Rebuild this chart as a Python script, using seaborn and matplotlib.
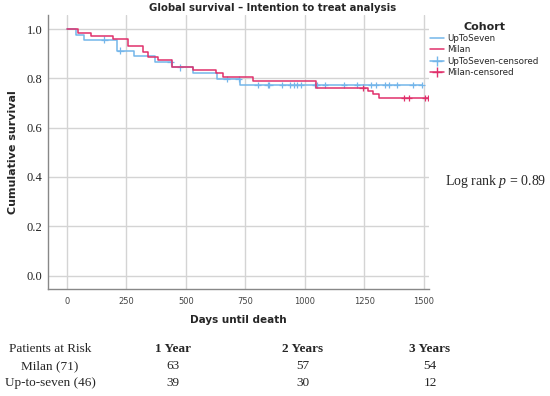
import numpy as np
import pandas as pd
import matplotlib
matplotlib.use("Agg")
import matplotlib.pyplot as plt
from matplotlib.lines import Line2D
import seaborn as sns

# Kaplan-Meier steps
milan_t = [0, 45, 100, 195, 255, 318, 340, 382, 441, 529, 626, 655, 781, 1045, 1265, 1285, 1310, 1516]
milan_s = [1.0, 0.986, 0.972, 0.958, 0.930, 0.906, 0.888, 0.874, 0.847, 0.834, 0.820, 0.806, 0.790, 0.762, 0.748, 0.735, 0.720, 0.720]
milan_cens = [1242, 1415, 1436, 1505, 1516]

upto_t = [0, 38, 73, 211, 283, 370, 440, 530, 629, 727, 1490]
upto_s = [1.0, 0.978, 0.957, 0.913, 0.890, 0.867, 0.845, 0.823, 0.798, 0.773, 0.773]
upto_cens = [157, 225, 436, 475, 671, 721, 801, 843, 850, 905, 938, 952, 966, 982, 1042, 1049,
             1084, 1163, 1219, 1277, 1298, 1336, 1354, 1385, 1452, 1490]

risk_cols = ["1 Year", "2 Years", "3 Years"]
risk_rows = ["Milan (71)", "Up-to-seven (46)"]
risk_milan = [63, 57, 54]
risk_upto = [39, 30, 12]

blue = "#74b6ea"
red = "#e0306b"

curves = pd.concat([
    pd.DataFrame({"days": upto_t, "surv": upto_s, "cohort": "UpToSeven"}),
    pd.DataFrame({"days": milan_t, "surv": milan_s, "cohort": "Milan"}),
])


def surv_at(times, t, s):
    idx = np.searchsorted(t, times, side="right") - 1
    return np.array(s)[idx]


cens = pd.concat([
    pd.DataFrame({"days": upto_cens, "surv": surv_at(upto_cens, upto_t, upto_s), "cohort": "UpToSeven"}),
    pd.DataFrame({"days": milan_cens, "surv": surv_at(milan_cens, milan_t, milan_s), "cohort": "Milan"}),
])

sns.set_style("white")
serif = "Liberation Serif"
plt.rcParams["mathtext.fontset"] = "custom"
plt.rcParams["mathtext.rm"] = serif
plt.rcParams["mathtext.it"] = serif + ":italic"

fig = plt.figure(figsize=(5.5, 3.96), dpi=100)
ax = fig.add_axes([0.087, 0.27, 0.693, 0.692])

pal = {"UpToSeven": blue, "Milan": red}
sns.lineplot(data=curves, x="days", y="surv", hue="cohort", palette=pal, estimator=None,
             drawstyle="steps-post", linewidth=1.1, legend=False, ax=ax)
sns.scatterplot(data=cens, x="days", y="surv", hue="cohort", palette=pal, marker="+",
                s=22, linewidth=0.9, legend=False, ax=ax)

ax.set_xlim(-80, 1521)
ax.set_ylim(-0.055, 1.057)
ax.set_xticks([0, 250, 500, 750, 1000, 1250, 1500])
ax.set_yticks([0.0, 0.2, 0.4, 0.6, 0.8, 1.0])
ax.set_yticklabels([f"{v:.1f}" for v in ax.get_yticks()], fontfamily=serif, fontsize=9)
ax.tick_params(axis="x", labelsize=6, colors="#444444", length=0, pad=6)
ax.tick_params(axis="y", length=0, pad=4, labelcolor="#222222")
ax.grid(True, color="#d4d4d4", linewidth=1)
for side in ["top", "right"]:
    ax.spines[side].set_visible(False)
for side in ["left", "bottom"]:
    ax.spines[side].set_color("#888888")
    ax.spines[side].set_linewidth(1)

ax.set_xlabel("Days until death", fontsize=7.5, fontweight="bold")
ax.xaxis.set_label_coords(0.5, -0.095)
ax.set_ylabel("Cumulative survival", fontsize=8, fontweight="bold")
ax.yaxis.set_label_coords(-0.078, 0.5)

fig.text(273 / 550, 1 - 8 / 396, "Global survival \u2013 Intention to treat analysis",
         ha="center", va="center", fontsize=7.3, fontweight="bold")

handles = [
    Line2D([], [], color=blue, lw=1.1),
    Line2D([], [], color=red, lw=1.1),
    Line2D([], [], color=blue, lw=1.1, marker="+", markersize=7),
    Line2D([], [], color=red, lw=1.1, marker="+", markersize=7),
]
labels = ["UpToSeven", "Milan", "UpToSeven-censored", "Milan-censored"]
fig.legend(handles, labels, title="Cohort", loc="upper left",
           bbox_to_anchor=(424 / 550, 1 - 16 / 396), frameon=False, fontsize=6.3,
           handlelength=1.6, handletextpad=0.3, labelspacing=0.25, borderpad=0.2,
           title_fontproperties={"weight": "bold", "size": 8})

fig.text(445 / 550, 1 - 181 / 396, "Log rank $p$ = 0.89", ha="left", va="center",
         fontsize=10, fontfamily=serif)

# risk table
col_x = [173, 303, 430]
fig.text(50 / 550, 1 - 349 / 396, "Patients at Risk", ha="center", va="center", fontsize=9.5, fontfamily=serif)
for x, c in zip(col_x, risk_cols):
    fig.text(x / 550, 1 - 349 / 396, c, ha="center", va="center", fontsize=9.5,
             fontfamily=serif, fontweight="bold")
for y, name, vals in zip([366, 383], risk_rows, [risk_milan, risk_upto]):
    fig.text(50 / 550, 1 - y / 396, name, ha="center", va="center", fontsize=9.5, fontfamily=serif)
    for x, v in zip(col_x, vals):
        fig.text(x / 550, 1 - y / 396, str(v), ha="center", va="center", fontsize=9.5, fontfamily=serif)

fig.savefig("out.png", dpi=100)
